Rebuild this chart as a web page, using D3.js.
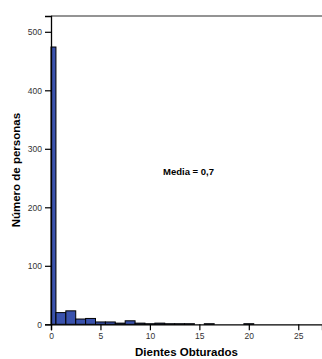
<!DOCTYPE html>
<html>
<head>
<meta charset="utf-8">
<script src="https://cdn.jsdelivr.net/npm/d3@7"></script>
<style>
body { margin: 0; background: #fff; }
text { font-family: "Liberation Sans", Arial, sans-serif; }
</style>
</head>
<body>
<div id="plotHist"></div>
<script>
// Width and height
var w = 322;
var h = 359;

// Histogram data: count of people for each number of filled teeth (bins centred on integers)
var bins = [0, 1, 2, 3, 4, 5, 6, 7, 8, 9, 10, 11, 12, 13, 14, 15, 16, 17, 18, 19, 20];
var counts = [474, 20, 23, 9, 10, 4, 4, 2, 6, 2, 1, 2, 1, 1, 1, 0, 1, 0, 0, 0, 1];
var xTicks = [0, 5, 10, 15, 20, 25];
var yTicks = [0, 100, 200, 300, 400, 500];

var xLabel = "Dientes Obturados";
var yLabel = "Número de personas";
var meanLabel = "Media = 0,7";

// Plot area (note: "top" is a reserved window property, so use other names)
var plotLeft = 51, plotRight = 322, plotTop = 16, plotBottom = 324.3;

var x = d3.scaleLinear().domain([0, 27.4]).range([plotLeft, plotRight]);
var y = d3.scaleLinear().domain([0, 527]).range([plotBottom, plotTop]);

var svg = d3.select("#plotHist")
			.append("svg")
			.attr("width", w)
			.attr("height", h);

// Bars (first bin starts at -0.5 so it gets cut at the axis)
svg.selectAll("rect.bar")
	.data(bins)
	.enter()
	.append("rect")
	.attr("class", "bar")
	.attr("x", function(d) { return x(Math.max(d - 0.5, 0)); })
	.attr("width", function(d) { return x(d + 0.5) - x(Math.max(d - 0.5, 0)); })
	.attr("y", function(d, i) { return y(counts[i]); })
	.attr("height", function(d, i) { return y(0) - y(counts[i]); })
	.style("fill", "#3a52ad")
	.style("stroke", "#000")
	.style("stroke-width", 1);

// Top frame line
svg.append("line")
	.attr("x1", plotLeft).attr("x2", plotRight)
	.attr("y1", plotTop).attr("y2", plotTop)
	.style("stroke", "#707070")
	.style("stroke-width", 1.6);

// Axes
var xAxis = svg.append("g")
	.attr("transform", "translate(0," + plotBottom + ")")
	.call(d3.axisBottom(x).tickValues(xTicks).tickSize(6).tickPadding(3));

var yAxis = svg.append("g")
	.attr("transform", "translate(" + plotLeft + ",0)")
	.call(d3.axisLeft(y).tickValues(yTicks).tickSize(6).tickPadding(3));

[xAxis, yAxis].forEach(function(a) {
	a.select(".domain").style("stroke", "#000").style("stroke-width", 1.3);
	a.selectAll(".tick line").style("stroke", "#000").style("stroke-width", 1.2);
	a.selectAll(".tick text")
		.style("font-family", "'Liberation Sans', Arial, sans-serif")
		.style("font-size", "8.5px")
		.style("fill", "#333");
});

// Axis titles
svg.append("text")
	.attr("x", (plotLeft + plotRight) / 2)
	.attr("y", 356)
	.attr("text-anchor", "middle")
	.style("font-size", "11.5px")
	.style("font-weight", "bold")
	.text(xLabel);

svg.append("text")
	.attr("transform", "translate(20," + ((plotTop + plotBottom) / 2) + ") rotate(-90)")
	.attr("text-anchor", "middle")
	.style("font-size", "11.5px")
	.style("font-weight", "bold")
	.text(yLabel);

// Mean annotation
svg.append("text")
	.attr("x", 163)
	.attr("y", 175)
	.style("font-size", "9.5px")
	.style("font-weight", "bold")
	.text(meanLabel);
</script>
</body>
</html>
